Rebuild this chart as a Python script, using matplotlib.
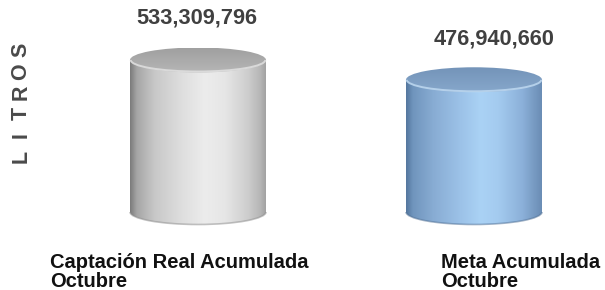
import numpy as np
import matplotlib
matplotlib.use("Agg")
import matplotlib.pyplot as plt
from matplotlib.patches import PathPatch, Ellipse, Arc
from matplotlib.path import Path
from matplotlib.colors import to_rgb

# ---- data ----
categories = ["Captación Real Acumulada\nOctubre", "Meta Acumulada\nOctubre"]
values = [533309796, 476940660]
value_labels = ["533,309,796", "476,940,660"]
axis_label = "LITROS"

# ---- style ----
W, H, DPI = 605, 290, 100
y_floor = 100e6
body_stops = [
    [(0.0, "#7c7c7c"), (0.05, "#a6a6a6"), (0.18, "#c8c8c8"), (0.38, "#dedede"),
     (0.55, "#ececec"), (0.7, "#e6e6e6"), (0.87, "#cdcdcd"), (0.96, "#b6b6b6"), (1.0, "#a2a2a2")],
    [(0.0, "#55779e"), (0.05, "#7095bd"), (0.2, "#88acd3"), (0.4, "#9cc2e8"),
     (0.55, "#aad2f5"), (0.68, "#a4cbef"), (0.86, "#8bb0d9"), (0.95, "#7699c1"), (1.0, "#6b8db5")],
]
top_cols = [("#a0a0a0", "#b6b6b6", "#e4e4e4", "#8a8a8a"),
            ("#7393b8", "#86a7cb", "#c2dcf3", "#4d6d92")]

fig = plt.figure(figsize=(W / DPI, H / DPI), dpi=DPI)
ax = fig.add_axes([0, 0, 1, 1])
ax.set_axis_off()

# scale: y_floor at pixel 212 from top, values[0] at pixel 60
ppm = (212 - 60) / (values[0] - y_floor)          # pixels per unit
ax.set_ylim(y_floor - (H - 212) / ppm, y_floor + 212 / ppm)
xpx = 276.0                                       # pixels per category unit
ax.set_xlim(-198 / xpx, (W - 198) / xpx)

half_w = 68 / xpx
ry = 12.5 / ppm


def grad_row(stops, n=256):
    pos = [s[0] for s in stops]
    cols = np.array([to_rgb(s[1]) for s in stops])
    t = np.linspace(0, 1, n)
    return np.stack([np.interp(t, pos, cols[:, k]) for k in range(3)], axis=-1)


def cylinder(xc, y0, y1, stops, tops):
    # body
    theta = np.linspace(np.pi, 2 * np.pi, 60)
    bx = xc + half_w * np.cos(theta)
    by = y0 + ry * np.sin(theta)
    verts = [(xc - half_w, y1)] + list(zip(bx, by)) + [(xc + half_w, y1), (xc - half_w, y1)]
    codes = [Path.MOVETO] + [Path.LINETO] * (len(verts) - 2) + [Path.CLOSEPOLY]
    body = PathPatch(Path(verts, codes), facecolor="none", edgecolor="none")
    ax.add_patch(body)
    img = grad_row(stops)[None, :, :]
    im = ax.imshow(img, extent=[xc - half_w, xc + half_w, y0 - ry, y1],
                   aspect="auto", interpolation="bilinear", zorder=2)
    im.set_clip_path(body)
    # bottom shadow rim
    ax.add_patch(Arc((xc, y0), 2 * half_w, 2 * ry, theta1=185, theta2=355,
                     color=tops[3], lw=1.2, alpha=0.5, zorder=3))
    # top ellipse
    back, front, rim, _ = tops
    ell = Ellipse((xc, y1), 2 * half_w, 2 * ry, facecolor="none", edgecolor="none")
    ax.add_patch(ell)
    t = np.linspace(0, 1, 64)
    c0, c1 = np.array(to_rgb(back)), np.array(to_rgb(front))
    timg = (c0[None, :] * (1 - t[:, None]) + c1[None, :] * t[:, None])[:, None, :]
    tim = ax.imshow(timg, extent=[xc - half_w, xc + half_w, y1 - ry, y1 + ry],
                    aspect="auto", interpolation="bilinear", zorder=4)
    tim.set_clip_path(ell)
    ax.add_patch(Arc((xc, y1), 2 * half_w * 0.99, 2 * ry * 0.92, theta1=205, theta2=335,
                     color=rim, lw=1.4, alpha=0.8, zorder=5))


for i, v in enumerate(values):
    cylinder(i, y_floor, v, body_stops[i], top_cols[i])

# value labels
label_dx = [-0.005, 0.072]
label_dy_px = [42, 41]
for i, v in enumerate(values):
    ax.text(i + label_dx[i], v + label_dy_px[i] / ppm,
            value_labels[i], ha="center", va="center", fontsize=15.7,
            fontweight="bold", color="#404040", family="Liberation Sans")

# category labels
cat_left = [-148 / xpx, 243 / xpx]
for i, c in enumerate(categories):
    ax.text(cat_left[i], y_floor - (253 - 212) / ppm, c, ha="left", va="top",
            fontsize=14.5, fontweight="bold", color="#111111",
            family="Liberation Sans", linespacing=1.0)

# axis label, letters spaced out
for k, ch in enumerate(axis_label):
    fig.text(21 / W, 1 - (156 - 21.2 * k) / H, ch, rotation=90, ha="center", va="center",
             fontsize=15.5, fontweight="bold", color="#4a4a4a", family="Liberation Sans")

fig.savefig("out.png", dpi=DPI, facecolor="white")
